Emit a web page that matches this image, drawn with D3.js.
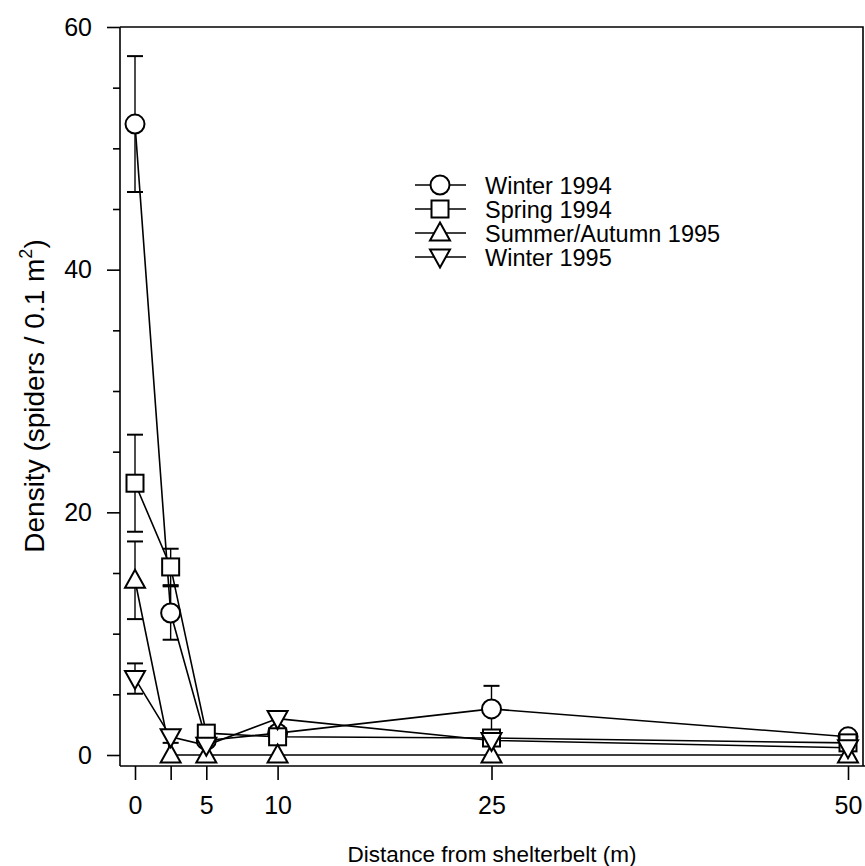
<!DOCTYPE html>
<html>
<head>
<meta charset="utf-8">
<script src="https://cdn.jsdelivr.net/npm/d3@7"></script>
<style>
  html, body { margin: 0; padding: 0; background: #fff; }
  svg { display: block; }
  text { font-family: Arial, "Liberation Sans", sans-serif; fill: #000; }
</style>
</head>
<body>
<script>
// Distance from the shelterbelt (m)
const distances = [0, 2.5, 5, 10, 25, 50];
const xTickValues = [0, 2.5, 5, 10, 25, 50];
const xTickLabels = ["0", "", "5", "10", "25", "50"];
const yMajorTicks = [0, 20, 40, 60];
const yMinorTicks = [5, 10, 15, 25, 30, 35, 45, 50, 55];

// Mean spider density and standard error per season
const seriesNames = ["Winter 1994", "Spring 1994", "Summer/Autumn 1995", "Winter 1995"];
const seriesSymbols = ["circle", "square", "triangleUp", "triangleDown"];
const winter1994 = [52.0, 11.7, 1.2, 1.8, 3.8, 1.5];
const winter1994Err = [5.6, 2.2, 0, 0, 1.9, 0];
const spring1994 = [22.4, 15.5, 1.8, 1.5, 1.4, 1.0];
const spring1994Err = [4.0, 1.5, 0, 0, 0, 0];
const summer1995 = [14.4, 0, 0, 0, 0, 0];
const summer1995Err = [3.2, 0, 0, 0, 0, 0];
const winter1995 = [6.3, 1.5, 0.8, 3.0, 1.2, 0.6];
const winter1995Err = [1.25, 0.5, 0, 0, 0, 0];

const seriesValues = [winter1994, spring1994, summer1995, winter1995];
const seriesErrors = [winter1994Err, spring1994Err, summer1995Err, winter1995Err];

const W = 865, H = 866;
const frameLeft = 120, frameRight = 863, frameTop = 27, axisY = 766;
const FONT = "Arial, 'Liberation Sans', sans-serif";

const svg = d3.select("body").append("svg").attr("width", W).attr("height", H);

const x = d3.scaleLinear().domain([0, 50]).range([135, 848]);
const y = d3.scaleLinear().domain([0, 60]).range([755, 27]);

// Frame: top and right edges
svg.append("path")
  .attr("d", `M${frameLeft},${frameTop}H${frameRight}V${axisY}`)
  .attr("fill", "none").attr("stroke", "#000").attr("stroke-width", 1.6);

// Y axis with major and minor ticks
const yAxis = d3.axisLeft(y).tickValues(yMajorTicks).tickSize(13).tickPadding(15).tickSizeOuter(0);
const gy = svg.append("g").attr("transform", `translate(${frameLeft},0)`).call(yAxis);
gy.select(".domain").attr("d", `M0,${frameTop}V${axisY}`).attr("stroke-width", 1.6);
gy.selectAll(".tick line").attr("stroke-width", 1.6);
gy.selectAll(".tick text").attr("font-size", 25).attr("font-family", FONT);
const yMinor = d3.axisLeft(y).tickValues(yMinorTicks).tickSize(7).tickFormat("").tickSizeOuter(0);
const gym = svg.append("g").attr("transform", `translate(${frameLeft},0)`).call(yMinor);
gym.select(".domain").remove();
gym.selectAll(".tick line").attr("stroke-width", 1.6);

// X axis, offset below the zero line
const xAxis = d3.axisBottom(x).tickValues(xTickValues)
  .tickFormat((d, i) => xTickLabels[i]).tickSize(14).tickPadding(16).tickSizeOuter(0);
const gx = svg.append("g").attr("transform", `translate(0,${axisY})`).call(xAxis);
gx.select(".domain").attr("d", `M${frameLeft},0H${W}`).attr("stroke-width", 1.6);
gx.selectAll(".tick line").attr("stroke-width", 1.6);
gx.selectAll(".tick text").attr("font-size", 25).attr("font-family", FONT);

// Axis titles
svg.append("text")
  .attr("x", 492).attr("y", 862)
  .attr("text-anchor", "middle").attr("font-size", 22.5)
  .text("Distance from shelterbelt (m)");

const yt = svg.append("text")
  .attr("transform", "translate(44,396) rotate(-90)")
  .attr("text-anchor", "middle").attr("font-size", 28);
yt.append("tspan").text("Density (spiders / 0.1 m");
yt.append("tspan").attr("font-size", 18).attr("dy", -12).text("2");
yt.append("tspan").attr("dy", 12).text(")");

// Marker shapes
function drawMarker(g, kind, cx, cy) {
  let el;
  if (kind === "circle") {
    el = g.append("circle").attr("cx", cx).attr("cy", cy).attr("r", 9.5);
  } else if (kind === "square") {
    el = g.append("rect").attr("x", cx - 8.5).attr("y", cy - 8.5).attr("width", 17).attr("height", 17);
  } else if (kind === "triangleUp") {
    el = g.append("path").attr("d", `M${cx},${cy - 10.5}L${cx + 10},${cy + 7.5}L${cx - 10},${cy + 7.5}Z`);
  } else {
    el = g.append("path").attr("d", `M${cx},${cy + 10.5}L${cx + 10},${cy - 7.5}L${cx - 10},${cy - 7.5}Z`);
  }
  el.attr("fill", "#fff").attr("stroke", "#000").attr("stroke-width", 2);
}

const line = d3.line().x(d => x(d[0])).y(d => y(d[1]));

// Lines and error bars first, then the markers on top
const plot = svg.append("g");
seriesValues.forEach((vals, si) => {
  const pts = distances.map((d, i) => [d, vals[i]]);
  plot.append("path").attr("d", line(pts))
    .attr("fill", "none").attr("stroke", "#000").attr("stroke-width", 1.6);
  const errs = seriesErrors[si];
  distances.forEach((d, i) => {
    const e = errs[i];
    if (!e) return;
    const cx = x(d), y1 = y(vals[i] + e), y0 = y(Math.max(0, vals[i] - e));
    plot.append("line").attr("x1", cx).attr("x2", cx).attr("y1", y1).attr("y2", y0)
      .attr("stroke", "#000").attr("stroke-width", 1.4);
    [y1, y0].forEach(yy => plot.append("line")
      .attr("x1", cx - 8).attr("x2", cx + 8).attr("y1", yy).attr("y2", yy)
      .attr("stroke", "#000").attr("stroke-width", 2));
  });
});
seriesValues.forEach((vals, si) => {
  distances.forEach((d, i) => drawMarker(plot, seriesSymbols[si], x(d), y(vals[i])));
});

// Legend
const legend = svg.append("g");
seriesNames.forEach((name, i) => {
  const ly = 185 + i * 24;
  legend.append("line").attr("x1", 415).attr("x2", 466).attr("y1", ly).attr("y2", ly)
    .attr("stroke", "#000").attr("stroke-width", 1.6);
  drawMarker(legend, seriesSymbols[i], 440, ly);
  legend.append("text").attr("x", 485).attr("y", ly + 8.5).attr("font-size", 23.5).text(name);
});
</script>
</body>
</html>
